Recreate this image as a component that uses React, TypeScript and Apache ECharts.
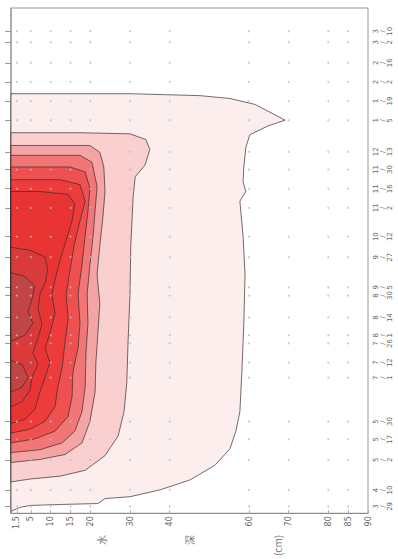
import React, { useEffect, useRef } from "react";
import * as echarts from "echarts";

// Depth axis (cm): labelled sampling depths
const depthTicks = [1.5, 5, 10, 15, 20, 30, 40, 60, 70, 80, 85, 90];
// Depths where samples were taken (dots)
const sampleDepths = [1.5, 5, 10, 15, 20, 30, 40, 60, 70, 80, 85];
// Survey dates
const surveyDates = [
  "2019-03-29", "2019-04-10", "2019-05-02", "2019-05-17", "2019-05-30",
  "2019-07-01", "2019-07-12", "2019-07-26", "2019-08-01", "2019-08-14",
  "2019-08-30", "2019-09-05", "2019-09-27", "2019-10-12", "2019-11-02",
  "2019-11-16", "2019-11-30", "2019-12-13", "2020-01-05", "2020-01-19",
  "2020-02-02", "2020-02-16", "2020-03-02", "2020-03-10",
];

// Contour regions: [depth (cm), days since 2019-03-01], outer to inner
const level1 = [[0, 24.4], [2.3, 27.3], [4.8, 28.7], [12.4, 29.4], [21.9, 30.1], [23.7, 33.7], [30, 35.1], [37.6, 40.1], [45.1, 47.3], [51.4, 58], [55.2, 70.1], [56.7, 83], [57.7, 97.3], [58.2, 125.9], [58.7, 161.6], [59, 197.3], [58.5, 225.9], [57.7, 250.9], [59.2, 258], [58.5, 265.1], [58.7, 275.9], [59.2, 290.1], [60.2, 299.4], [64.8, 305.9], [69.1, 310.1], [65.8, 315.1], [61.5, 321.6], [55.2, 325.9], [47.6, 328], [30, 329.4], [12.4, 329.4], [0, 329.4]];
const level2 = [[0, 45.9], [4.8, 48], [12.4, 50.1], [18.7, 54.4], [23.7, 65.1], [27, 79.4], [28.5, 97.3], [29.2, 118.7], [29.5, 147.3], [30, 183], [30.2, 218.7], [30.8, 254.4], [31.3, 268.7], [33.8, 277.3], [35, 288.7], [34, 295.9], [30, 300.1], [17.4, 300.9], [0, 300.9]];
const level3 = [[0, 60.1], [7.3, 62.3], [13.6, 65.9], [17.9, 74.4], [19.9, 90.1], [21.2, 111.6], [21.4, 133], [21.9, 154.4], [22.4, 175.9], [21.7, 197.3], [22.4, 218.7], [23.2, 240.1], [23.7, 258], [23.4, 275.9], [22.4, 286.6], [19.9, 291.6], [0, 291.6]];
const level4 = [[0, 67.3], [7.3, 69.4], [12.9, 74.4], [16.1, 83], [17.9, 97.3], [18.7, 115.1], [18.9, 140.1], [19.4, 161.6], [19.2, 183], [19.9, 204.4], [20.7, 225.9], [21.2, 243.7], [21.7, 261.6], [20.4, 279.4], [17.4, 284.4], [0, 284.4]];
const level5 = [[0, 74.4], [6, 77.3], [11.1, 83], [14.4, 93.7], [15.4, 108], [15.6, 125.9], [16.9, 143.7], [17.4, 161.6], [16.9, 183], [17.9, 204.4], [18.7, 225.9], [19.4, 243.7], [19.9, 260.1], [18.7, 272.3], [14.9, 275.9], [0, 275.9]];
const level6 = [[0, 81.6], [4.8, 84.4], [8.6, 90.1], [11.1, 100.9], [11.8, 115.1], [12.9, 129.4], [13.6, 147.3], [14.4, 165.1], [13.9, 183], [14.9, 200.9], [15.9, 218.7], [17.4, 236.6], [18.7, 250.9], [17.4, 263], [12.4, 266.6], [0, 266.6]];
const level7 = [[0, 88.7], [3.5, 91.6], [6, 98.7], [7.3, 111.6], [8.6, 122.3], [9.8, 133], [8.6, 143.7], [9.8, 154.4], [11.1, 168.7], [10.3, 183], [11.1, 193.7], [12.4, 208], [13.9, 222.3], [15.4, 236.6], [16.1, 248.7], [14.4, 255.9], [7.3, 258], [0, 258]];
const level8 = [[0, 100.9], [2.8, 104.4], [4.8, 113], [5.3, 122.3], [6.8, 131.6], [5.5, 140.1], [6.8, 150.9], [7.8, 161.6], [6.8, 172.3], [7.3, 183], [8.6, 191.6], [9.3, 200.9], [8.6, 210.1], [4.8, 215.1], [0, 217.3]];
const level9a = [[0, 148.7], [3.5, 153], [5.5, 161.6], [4.3, 170.1], [5.3, 179.4], [6, 188.7], [3.5, 195.9], [0, 198.7]];
const level9b = [[0, 111.6], [2.8, 115.1], [4.3, 122.3], [2.8, 131.6], [0, 134.4]];

const contourRegions = [level1, level2, level3, level4, level5, level6, level7, level8, level9a, level9b];
const regionColors = ["#fdeeee", "#f9cfcf", "#f5a4a4", "#f27676", "#ef5050", "#ee3c3c", "#e93434", "#da3a3a", "#c04545", "#c04545"];

const BASE = Date.UTC(2019, 2, 1);
const dayOf = (s: string) => {
  const [y, m, d] = s.split("-").map(Number);
  return (Date.UTC(y, m - 1, d) - BASE) / 86400000;
};
const surveyDays = surveyDates.map(dayOf);

export default function App() {
  const ref = useRef<HTMLDivElement>(null);
  useEffect(() => {
    if (!ref.current) return;
    const chart = echarts.init(ref.current, null, { renderer: "svg" });
    const dots: number[][] = [];
    surveyDays.forEach((d) => sampleDepths.forEach((z) => dots.push([z, d])));
    chart.setOption({
      animation: false,
      backgroundColor: "#ffffff",
      grid: { left: 11, right: 30, top: 8, bottom: 35, show: true, borderColor: "#9a9a9a", borderWidth: 1, backgroundColor: "transparent" },
      xAxis: {
        type: "value",
        min: 0,
        max: 90,
        position: "bottom",
        name: "水\n深\n(cm)",
        nameLocation: "middle",
        nameRotate: 90,
        nameGap: 15,
        nameTextStyle: { fontSize: 10, color: "#777", lineHeight: 88, fontFamily: "Noto Sans CJK SC" },
        axisLine: { show: true, lineStyle: { color: "#8a8a8a", width: 1 } },
        axisTick: { show: true, inside: true, length: 3, customValues: depthTicks, lineStyle: { color: "#aaa" } },
        axisLabel: { customValues: depthTicks, rotate: 90, fontSize: 8, color: "#666", margin: 3, fontFamily: "DejaVu Sans", formatter: (v: number) => String(v) },
        splitLine: { show: false },
      },
      yAxis: {
        type: "value",
        min: 23,
        max: 392,
        position: "right",
        axisLine: { show: true, lineStyle: { color: "#a0a0a0", width: 1.5 } },
        axisTick: { show: true, inside: true, length: 6, customValues: surveyDays, lineStyle: { color: "#999" } },
        axisLabel: {
          customValues: surveyDays,
          rotate: 90,
          fontSize: 7,
          lineHeight: 7,
          color: "#666",
          margin: 4,
          fontFamily: "DejaVu Sans",
          formatter: (v: number) => {
            const dt = new Date(BASE + Math.round(v) * 86400000);
            return `${dt.getUTCMonth() + 1}\n/\n${dt.getUTCDate()}`;
          },
        },
        splitLine: { show: false },
      },
      series: [
        {
          type: "custom",
          coordinateSystem: "cartesian2d",
          data: contourRegions.map((r) => r[0]),
          renderItem: (params: any, api: any) => {
            const region = contourRegions[params.dataIndex];
            const points = region.map((p) => api.coord(p));
            return {
              type: "polygon",
              shape: { points },
              style: { fill: regionColors[params.dataIndex], stroke: "#3a2c2c", lineWidth: 0.7 },
            };
          },
          silent: true,
          z: 1,
        },
        {
          type: "scatter",
          data: dots,
          symbolSize: 2,
          itemStyle: { color: "#bdbdbd" },
          silent: true,
          z: 3,
        },
      ],
    });
    return () => chart.dispose();
  }, []);
  return <div ref={ref} style={{ position: "fixed", left: 0, top: 0, width: 398, height: 559 }} />;
}
